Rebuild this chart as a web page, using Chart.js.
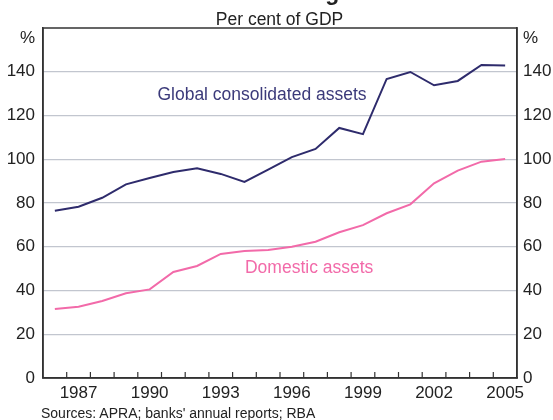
<!DOCTYPE html>
<html>
<head>
<meta charset="utf-8">
<script src="https://cdn.jsdelivr.net/npm/chart.js@4"></script>
<style>
    body { margin: 0; background: #fff; }
    #wrap { position: relative; width: 553px; height: 420px; overflow: hidden; font-family: "Liberation Sans", Arial, sans-serif; color: #222; }
    #wrap canvas { position: absolute; left: 0; top: 0; }
    .txt { position: absolute; white-space: nowrap; line-height: 1; }
    #title { left: 0; width: 570px; top: -19px; text-align: center; font-size: 23px; font-weight: bold; }
    #subtitle { left: 0; width: 559px; top: 11px; text-align: center; font-size: 17.5px; }
    #source { left: 41px; top: 406px; font-size: 14px; }
</style>
</head>
<body>
<div id="wrap">
    <canvas id="chart" width="553" height="420"></canvas>
    <div class="txt" id="title">Assets of Four Largest Banks</div>
    <div class="txt" id="subtitle">Per cent of GDP</div>
    <div class="txt" id="source">Sources: APRA; banks' annual reports; RBA</div>
</div>
<script>
/* ==========================================
   DATA (per cent of GDP)
========================================== */

const years = [
    "1986", "1987", "1988", "1989", "1990", "1991", "1992",
    "1993", "1994", "1995", "1996", "1997", "1998", "1999",
    "2000", "2001", "2002", "2003", "2004", "2005"
];

const globalAssets = [
    76.5, 78.3, 82.4, 88.5, 91.4, 94.2, 95.9,
    93.3, 89.6, 95.3, 101.0, 104.7, 114.3, 111.5,
    136.7, 139.9, 133.8, 135.8, 143.1, 142.9
];

const domesticAssets = [
    31.5, 32.6, 35.2, 38.7, 40.5, 48.5, 51.2,
    56.7, 58.1, 58.5, 60.0, 62.3, 66.6, 69.9,
    75.3, 79.4, 89.0, 94.8, 98.9, 100.1
];

const seriesNames = ["Global consolidated assets", "Domestic assets"];

const yTicks = [0, 20, 40, 60, 80, 100, 120, 140, 160];


/* ==========================================
   STYLE
========================================== */

const FONT = "Liberation Sans";
const navy = "#2e2b6c";
const navyText = "#3b3a7a";
const pink = "#f26aa9";
const gridColor = "#c2c6cf";
const axisColor = "#333";


/* ==========================================
   EXTRA DRAWING: frame, inner ticks, %, labels
========================================== */

const extras = {

    id: "extras",

    afterDraw(chart) {

        const { ctx, chartArea: a, scales: { x, y } } = chart;

        ctx.save();

        // frame
        ctx.strokeStyle = axisColor;
        ctx.lineWidth = 1.5;
        ctx.strokeRect(a.left, a.top, a.right - a.left, a.bottom - a.top);

        // tick marks between years, pointing up into the plot
        ctx.lineWidth = 1.2;
        for (let i = 1; i < years.length; i++) {
            const px = (x.getPixelForValue(i - 1) + x.getPixelForValue(i)) / 2;
            ctx.beginPath();
            ctx.moveTo(px, a.bottom);
            ctx.lineTo(px, a.bottom - 6);
            ctx.stroke();
        }

        // % units at the top of both axes
        ctx.font = "17px '" + FONT + "'";
        ctx.fillStyle = "#222";
        ctx.textBaseline = "middle";
        ctx.textAlign = "right";
        ctx.fillText("%", a.left - 8, a.top + 10);
        ctx.textAlign = "left";
        ctx.fillText("%", a.right + 6, a.top + 10);

        // series labels
        ctx.font = "17.5px '" + FONT + "'";
        ctx.textAlign = "center";
        ctx.fillStyle = navyText;
        ctx.fillText(seriesNames[0], x.getPixelForValue(8.74), y.getPixelForValue(129.5));
        ctx.fillStyle = pink;
        ctx.fillText(seriesNames[1], x.getPixelForValue(10.73), y.getPixelForValue(50.3));

        ctx.restore();

    }

};


/* ==========================================
   CHART
========================================== */

const yAxis = (side, width, pad, showGrid) => ({

    position: side,
    min: 0,
    max: 160,
    afterBuildTicks: (scale) => {
        scale.ticks = yTicks.map(v => ({ value: v }));
    },
    afterFit: (scale) => {
        scale.width = width;
    },
    ticks: {
        color: "#222",
        padding: pad,
        font: { family: FONT, size: 17 },
        callback: (v) => v === 160 ? "" : v
    },
    grid: {
        display: showGrid,
        drawTicks: false,
        lineWidth: 1.2,
        color: (c) => (c.tick.value === 0 || c.tick.value === 160) ? "rgba(0,0,0,0)" : gridColor
    },
    border: {
        display: true,
        color: axisColor,
        width: 1.5
    }

});

new Chart(document.getElementById("chart"), {

    type: "line",

    data: {

        labels: years,

        datasets: [
            {
                label: seriesNames[0],
                data: globalAssets,
                borderColor: navy,
                borderWidth: 2,
                pointRadius: 0,
                tension: 0,
                yAxisID: "y"
            },
            {
                label: seriesNames[1],
                data: domesticAssets,
                borderColor: pink,
                borderWidth: 2,
                pointRadius: 0,
                tension: 0,
                yAxisID: "y"
            }
        ]

    },

    options: {

        responsive: false,
        animation: false,

        layout: {
            padding: { top: 28, left: 0, right: 0, bottom: 0 }
        },

        plugins: {
            legend: { display: false },
            tooltip: { enabled: false }
        },

        scales: {

            x: {
                type: "category",
                offset: true,
                afterFit: (scale) => {
                    scale.height = 42;
                },
                ticks: {
                    color: "#222",
                    autoSkip: false,
                    maxRotation: 0,
                    padding: 5,
                    font: { family: FONT, size: 17 },
                    callback: (v, i) => (Number(years[i]) - 1987) % 3 === 0 ? years[i] : ""
                },
                grid: { display: false, drawTicks: false },
                border: { display: true, color: axisColor, width: 1.5 }
            },

            y: yAxis("left", 43, 8, true),

            y2: yAxis("right", 36, 6, false)

        }

    },

    plugins: [extras]

});
</script>
</body>
</html>
